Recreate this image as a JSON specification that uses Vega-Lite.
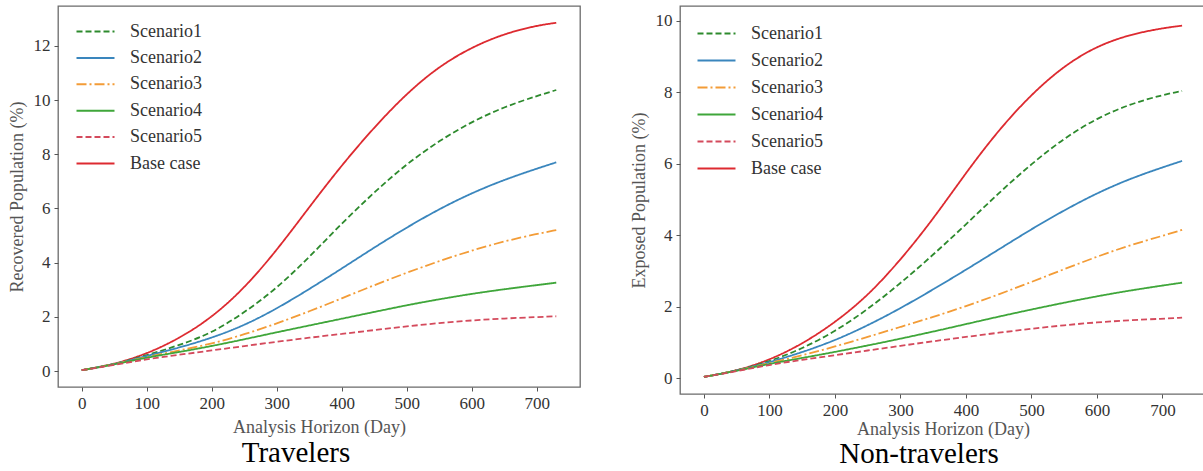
{
  "$schema": "https://vega.github.io/schema/vega-lite/v6.json",
  "padding": {"left": 7, "top": 5, "right": 0, "bottom": 0},
  "background": "white",
  "config": {
    "font": "Liberation Serif",
    "view": {"stroke": "#6b6b6b", "strokeWidth": 1.3},
    "axis": {"grid": false, "domain": false, "labelFontSize": 17, "labelColor": "#333", "titleFontSize": 18, "titleColor": "#555", "titleFontWeight": "normal", "tickColor": "#555", "tickSize": 4, "labelPadding": 4, "titlePadding": 7, "labelFont": "Liberation Serif", "titleFont": "Liberation Serif"},
    "legend": {"labelFont": "Liberation Serif", "labelFontSize": 18, "labelColor": "#333", "symbolType": "M-2,0H2", "symbolSize": 361, "symbolStrokeWidth": 2, "labelOffset": 24, "rowPadding": 7, "title": null},
    "title": {"font": "Liberation Serif", "fontSize": 29, "fontWeight": "normal", "color": "#000"}
  },
  "datasets": {
    "trav": [
      {"s":"Base case","d":0,"v":0.03},{"s":"Base case","d":50,"v":0.25},{"s":"Base case","d":100,"v":0.63},{"s":"Base case","d":150,"v":1.2},{"s":"Base case","d":200,"v":1.97},{"s":"Base case","d":250,"v":3.05},{"s":"Base case","d":300,"v":4.45},{"s":"Base case","d":350,"v":6.05},{"s":"Base case","d":400,"v":7.6},{"s":"Base case","d":450,"v":9.0},{"s":"Base case","d":500,"v":10.25},{"s":"Base case","d":550,"v":11.25},{"s":"Base case","d":600,"v":11.95},{"s":"Base case","d":650,"v":12.45},{"s":"Base case","d":700,"v":12.75},{"s":"Base case","d":730,"v":12.85},
      {"s":"Scenario1","d":0,"v":0.03},{"s":"Scenario1","d":50,"v":0.24},{"s":"Scenario1","d":100,"v":0.58},{"s":"Scenario1","d":150,"v":0.95},{"s":"Scenario1","d":200,"v":1.4},{"s":"Scenario1","d":250,"v":2.15},{"s":"Scenario1","d":300,"v":3.05},{"s":"Scenario1","d":350,"v":4.2},{"s":"Scenario1","d":400,"v":5.45},{"s":"Scenario1","d":450,"v":6.6},{"s":"Scenario1","d":500,"v":7.65},{"s":"Scenario1","d":550,"v":8.5},{"s":"Scenario1","d":600,"v":9.2},{"s":"Scenario1","d":650,"v":9.75},{"s":"Scenario1","d":700,"v":10.15},{"s":"Scenario1","d":730,"v":10.37},
      {"s":"Scenario2","d":0,"v":0.03},{"s":"Scenario2","d":50,"v":0.24},{"s":"Scenario2","d":100,"v":0.56},{"s":"Scenario2","d":150,"v":0.86},{"s":"Scenario2","d":200,"v":1.22},{"s":"Scenario2","d":250,"v":1.68},{"s":"Scenario2","d":300,"v":2.3},{"s":"Scenario2","d":350,"v":3.02},{"s":"Scenario2","d":400,"v":3.78},{"s":"Scenario2","d":450,"v":4.56},{"s":"Scenario2","d":500,"v":5.3},{"s":"Scenario2","d":550,"v":5.98},{"s":"Scenario2","d":600,"v":6.57},{"s":"Scenario2","d":650,"v":7.06},{"s":"Scenario2","d":700,"v":7.47},{"s":"Scenario2","d":730,"v":7.7},
      {"s":"Scenario3","d":0,"v":0.03},{"s":"Scenario3","d":50,"v":0.24},{"s":"Scenario3","d":100,"v":0.52},{"s":"Scenario3","d":150,"v":0.76},{"s":"Scenario3","d":200,"v":1.0},{"s":"Scenario3","d":250,"v":1.35},{"s":"Scenario3","d":300,"v":1.75},{"s":"Scenario3","d":350,"v":2.2},{"s":"Scenario3","d":400,"v":2.68},{"s":"Scenario3","d":450,"v":3.17},{"s":"Scenario3","d":500,"v":3.63},{"s":"Scenario3","d":550,"v":4.06},{"s":"Scenario3","d":600,"v":4.45},{"s":"Scenario3","d":650,"v":4.79},{"s":"Scenario3","d":700,"v":5.06},{"s":"Scenario3","d":730,"v":5.2},
      {"s":"Scenario4","d":0,"v":0.03},{"s":"Scenario4","d":50,"v":0.24},{"s":"Scenario4","d":100,"v":0.5},{"s":"Scenario4","d":150,"v":0.7},{"s":"Scenario4","d":200,"v":0.92},{"s":"Scenario4","d":250,"v":1.17},{"s":"Scenario4","d":300,"v":1.43},{"s":"Scenario4","d":350,"v":1.68},{"s":"Scenario4","d":400,"v":1.93},{"s":"Scenario4","d":450,"v":2.18},{"s":"Scenario4","d":500,"v":2.43},{"s":"Scenario4","d":550,"v":2.65},{"s":"Scenario4","d":600,"v":2.85},{"s":"Scenario4","d":650,"v":3.02},{"s":"Scenario4","d":700,"v":3.17},{"s":"Scenario4","d":730,"v":3.26},
      {"s":"Scenario5","d":0,"v":0.03},{"s":"Scenario5","d":50,"v":0.22},{"s":"Scenario5","d":100,"v":0.44},{"s":"Scenario5","d":150,"v":0.6},{"s":"Scenario5","d":200,"v":0.76},{"s":"Scenario5","d":250,"v":0.92},{"s":"Scenario5","d":300,"v":1.08},{"s":"Scenario5","d":350,"v":1.23},{"s":"Scenario5","d":400,"v":1.37},{"s":"Scenario5","d":450,"v":1.51},{"s":"Scenario5","d":500,"v":1.65},{"s":"Scenario5","d":550,"v":1.77},{"s":"Scenario5","d":600,"v":1.87},{"s":"Scenario5","d":650,"v":1.94},{"s":"Scenario5","d":700,"v":1.99},{"s":"Scenario5","d":730,"v":2.02}
    ],
    "nontrav": [
      {"s":"Base case","d":0,"v":0.03},{"s":"Base case","d":50,"v":0.2},{"s":"Base case","d":100,"v":0.5},{"s":"Base case","d":150,"v":0.95},{"s":"Base case","d":200,"v":1.55},{"s":"Base case","d":250,"v":2.3},{"s":"Base case","d":300,"v":3.3},{"s":"Base case","d":350,"v":4.45},{"s":"Base case","d":400,"v":5.75},{"s":"Base case","d":450,"v":6.95},{"s":"Base case","d":500,"v":7.95},{"s":"Base case","d":550,"v":8.75},{"s":"Base case","d":600,"v":9.3},{"s":"Base case","d":650,"v":9.62},{"s":"Base case","d":700,"v":9.8},{"s":"Base case","d":730,"v":9.87},
      {"s":"Scenario1","d":0,"v":0.03},{"s":"Scenario1","d":50,"v":0.2},{"s":"Scenario1","d":100,"v":0.46},{"s":"Scenario1","d":150,"v":0.82},{"s":"Scenario1","d":200,"v":1.3},{"s":"Scenario1","d":250,"v":1.92},{"s":"Scenario1","d":300,"v":2.65},{"s":"Scenario1","d":350,"v":3.45},{"s":"Scenario1","d":400,"v":4.3},{"s":"Scenario1","d":450,"v":5.18},{"s":"Scenario1","d":500,"v":6.0},{"s":"Scenario1","d":550,"v":6.72},{"s":"Scenario1","d":600,"v":7.28},{"s":"Scenario1","d":650,"v":7.67},{"s":"Scenario1","d":700,"v":7.93},{"s":"Scenario1","d":730,"v":8.04},
      {"s":"Scenario2","d":0,"v":0.03},{"s":"Scenario2","d":50,"v":0.2},{"s":"Scenario2","d":100,"v":0.44},{"s":"Scenario2","d":150,"v":0.72},{"s":"Scenario2","d":200,"v":1.05},{"s":"Scenario2","d":250,"v":1.47},{"s":"Scenario2","d":300,"v":1.95},{"s":"Scenario2","d":350,"v":2.48},{"s":"Scenario2","d":400,"v":3.03},{"s":"Scenario2","d":450,"v":3.6},{"s":"Scenario2","d":500,"v":4.17},{"s":"Scenario2","d":550,"v":4.7},{"s":"Scenario2","d":600,"v":5.18},{"s":"Scenario2","d":650,"v":5.58},{"s":"Scenario2","d":700,"v":5.9},{"s":"Scenario2","d":730,"v":6.08},
      {"s":"Scenario3","d":0,"v":0.03},{"s":"Scenario3","d":50,"v":0.2},{"s":"Scenario3","d":100,"v":0.42},{"s":"Scenario3","d":150,"v":0.63},{"s":"Scenario3","d":200,"v":0.88},{"s":"Scenario3","d":250,"v":1.15},{"s":"Scenario3","d":300,"v":1.43},{"s":"Scenario3","d":350,"v":1.71},{"s":"Scenario3","d":400,"v":2.01},{"s":"Scenario3","d":450,"v":2.34},{"s":"Scenario3","d":500,"v":2.69},{"s":"Scenario3","d":550,"v":3.05},{"s":"Scenario3","d":600,"v":3.4},{"s":"Scenario3","d":650,"v":3.72},{"s":"Scenario3","d":700,"v":3.98},{"s":"Scenario3","d":730,"v":4.15},
      {"s":"Scenario4","d":0,"v":0.03},{"s":"Scenario4","d":50,"v":0.2},{"s":"Scenario4","d":100,"v":0.4},{"s":"Scenario4","d":150,"v":0.56},{"s":"Scenario4","d":200,"v":0.73},{"s":"Scenario4","d":250,"v":0.91},{"s":"Scenario4","d":300,"v":1.1},{"s":"Scenario4","d":350,"v":1.3},{"s":"Scenario4","d":400,"v":1.51},{"s":"Scenario4","d":450,"v":1.72},{"s":"Scenario4","d":500,"v":1.92},{"s":"Scenario4","d":550,"v":2.11},{"s":"Scenario4","d":600,"v":2.29},{"s":"Scenario4","d":650,"v":2.45},{"s":"Scenario4","d":700,"v":2.59},{"s":"Scenario4","d":730,"v":2.67},
      {"s":"Scenario5","d":0,"v":0.03},{"s":"Scenario5","d":50,"v":0.19},{"s":"Scenario5","d":100,"v":0.37},{"s":"Scenario5","d":150,"v":0.51},{"s":"Scenario5","d":200,"v":0.64},{"s":"Scenario5","d":250,"v":0.77},{"s":"Scenario5","d":300,"v":0.9},{"s":"Scenario5","d":350,"v":1.03},{"s":"Scenario5","d":400,"v":1.15},{"s":"Scenario5","d":450,"v":1.27},{"s":"Scenario5","d":500,"v":1.38},{"s":"Scenario5","d":550,"v":1.48},{"s":"Scenario5","d":600,"v":1.56},{"s":"Scenario5","d":650,"v":1.62},{"s":"Scenario5","d":700,"v":1.66},{"s":"Scenario5","d":730,"v":1.69}
    ]
  },
  "bounds": "flush",
  "spacing": 100,
  "resolve": {"scale": {"color": "independent", "strokeDash": "independent", "y": "independent"}, "legend": {"color": "independent", "strokeDash": "independent"}},
  "hconcat": [
    {
      "data": {"name": "trav"},
      "width": 522,
      "height": 381,
      "title": {"text": "Travelers", "orient": "bottom", "anchor": "middle", "dx": -23, "offset": 3},
      "mark": {"type": "line", "strokeWidth": 1.8, "interpolate": "basis", "clip": true},
      "encoding": {
        "x": {"field": "d", "type": "quantitative", "scale": {"domain": [-36.5, 766.5], "nice": false, "zero": false}, "axis": {"title": "Analysis Horizon (Day)", "values": [0, 100, 200, 300, 400, 500, 600, 700]}},
        "y": {"field": "v", "type": "quantitative", "scale": {"domain": [-0.59, 13.47], "nice": false, "zero": false}, "axis": {"title": "Recovered Population (%)", "values": [0, 2, 4, 6, 8, 10, 12]}},
        "color": {"field": "s", "type": "nominal", "scale": {"domain": ["Scenario1", "Scenario2", "Scenario3", "Scenario4", "Scenario5", "Base case"], "range": ["#2d8a2d", "#3a86bd", "#f39c37", "#3fa63a", "#d44a5c", "#dd2a30"]}, "legend": {"orient": "none", "legendX": 27, "legendY": 15, "rowPadding": 6.4}},
        "strokeDash": {"field": "s", "type": "nominal", "scale": {"domain": ["Scenario1", "Scenario2", "Scenario3", "Scenario4", "Scenario5", "Base case"], "range": [[6, 3], [1, 0], [10, 3, 2, 3], [1, 0], [6, 3], [1, 0]]}, "legend": {"orient": "none", "legendX": 27, "legendY": 15, "rowPadding": 6.4}}
      }
    },
    {
      "data": {"name": "nontrav"},
      "width": 526,
      "height": 388,
      "title": {"text": "Non-travelers", "orient": "bottom", "anchor": "middle", "dx": -24, "offset": 2},
      "mark": {"type": "line", "strokeWidth": 1.8, "interpolate": "basis", "clip": true},
      "encoding": {
        "x": {"field": "d", "type": "quantitative", "scale": {"domain": [-36.5, 766.5], "nice": false, "zero": false}, "axis": {"title": "Analysis Horizon (Day)", "values": [0, 100, 200, 300, 400, 500, 600, 700], "titlePadding": 2}},
        "y": {"field": "v", "type": "quantitative", "scale": {"domain": [-0.448, 10.42], "nice": false, "zero": false}, "axis": {"title": "Exposed Population (%)", "values": [0, 2, 4, 6, 8, 10]}},
        "color": {"field": "s", "type": "nominal", "scale": {"domain": ["Scenario1", "Scenario2", "Scenario3", "Scenario4", "Scenario5", "Base case"], "range": ["#2d8a2d", "#3a86bd", "#f39c37", "#3fa63a", "#d44a5c", "#dd2a30"]}, "legend": {"orient": "none", "legendX": 26, "legendY": 17, "rowPadding": 7}},
        "strokeDash": {"field": "s", "type": "nominal", "scale": {"domain": ["Scenario1", "Scenario2", "Scenario3", "Scenario4", "Scenario5", "Base case"], "range": [[6, 3], [1, 0], [10, 3, 2, 3], [1, 0], [6, 3], [1, 0]]}, "legend": {"orient": "none", "legendX": 26, "legendY": 17, "rowPadding": 7}}
      }
    }
  ]
}
